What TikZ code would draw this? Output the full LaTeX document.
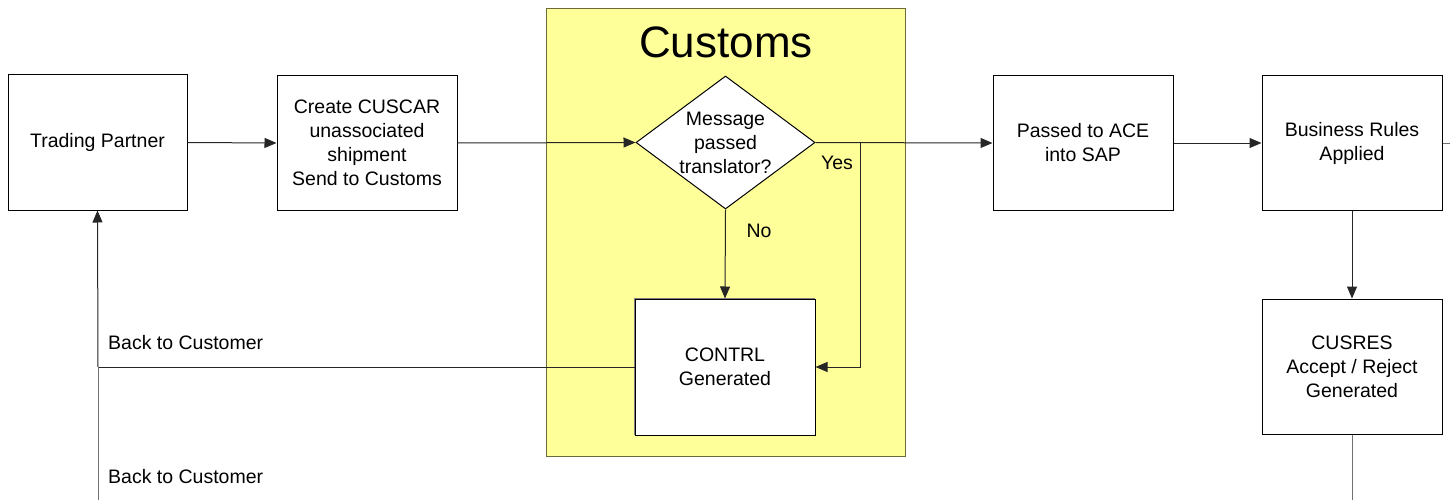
\documentclass[tikz,border=0pt]{standalone}
\usepackage{fontspec}
\setmainfont{Liberation Sans}
\usetikzlibrary{arrows.meta,shapes.geometric}
\definecolor{custyellow}{HTML}{FFFF99}
\definecolor{custborder}{HTML}{6B6B3A}
\definecolor{lgray}{HTML}{707070}
\tikzset{
  txt/.style={font=\fontsize{19.5pt}{24pt}\selectfont, align=center},
  procbox/.style={draw=black, line width=1pt, fill=white, minimum width=180pt, minimum height=134pt, inner sep=0pt, txt},
  conn/.style={line width=1pt, draw=black!85},
  arr/.style={conn, -{Triangle[length=12pt,width=10pt]}},
  lbl/.style={txt, inner sep=0pt}
}
\begin{document}
\begin{tikzpicture}[x=1pt,y=-1pt]
\useasboundingbox (0,0) rectangle (1450,500);
% Customs swimlane
\node[draw=custborder, fill=custyellow, line width=1pt, minimum width=359pt, minimum height=447pt, inner sep=0pt] (lane) at (725.5,232.5) {};
\node[font=\fontsize{44pt}{50pt}\selectfont, inner sep=0pt] (title) at (726,42) {Customs};
% boxes
\node[procbox, minimum width=179pt, minimum height=135pt] (tp) at (97.5,142.5) {Trading Partner};
\node[procbox] (cuscar) at (367,143) {Create CUSCAR\\unassociated\\shipment\\Send to Customs};
\node[draw=black, line width=1pt, fill=white, diamond, minimum width=179pt, minimum height=133pt, inner sep=0pt] (d) at (725.5,142.5) {};
\node[lbl] (dtxt) at (d.center) {Message\\passed\\translator?};
\node[draw=gray, line width=1pt, minimum width=180pt, minimum height=136pt, inner sep=0pt] (contrlsh) at (724,366) {};
\node[procbox, minimum height=136pt] (contrl) at (725,367) {CONTRL\\Generated};
\node[procbox] (ace) at (1083,143) {Passed to ACE\\into SAP};
\node[procbox] (br) at (1352,143) {Business Rules\\Applied};
\node[procbox, minimum height=135pt] (cusres) at (1352,366.5) {CUSRES\\Accept / Reject\\Generated};
% free ends
\coordinate (j) at (98,367);
\coordinate (bot) at (98,500);
\coordinate (redge) at (1450,143);
\coordinate (bedge) at (1352,500);
% connectors
\draw[arr] (tp.east) -- (cuscar.west);
\draw[arr] (cuscar.east) -- (d.west);
\draw[arr] (d.east) -- (ace.west);
\draw[arr] (d.south) -- (contrl.north);
\draw[arr] (d.east) -- ++(45,0) |- (contrl.east);
\draw[conn] (contrl.west) -- (j);
\draw[arr] (j) -- (tp.south);
\draw[conn, draw=lgray] (bot) -- (j);
\draw[arr] (ace.east) -- (br.west);
\draw[conn, draw=lgray] (br.east) -- (redge);
\draw[arr] (br.south) -- (cusres.north);
\draw[conn, draw=lgray] (cusres.south) -- (bedge);
% labels
\node[lbl] (yes) at (837,163) {Yes};
\node[lbl] (no) at (759,231) {No};
\node[lbl, anchor=west] (back1) at (108,343) {Back to Customer};
\node[lbl, anchor=west] (back2) at (108,477) {Back to Customer};
\end{tikzpicture}
\end{document}
